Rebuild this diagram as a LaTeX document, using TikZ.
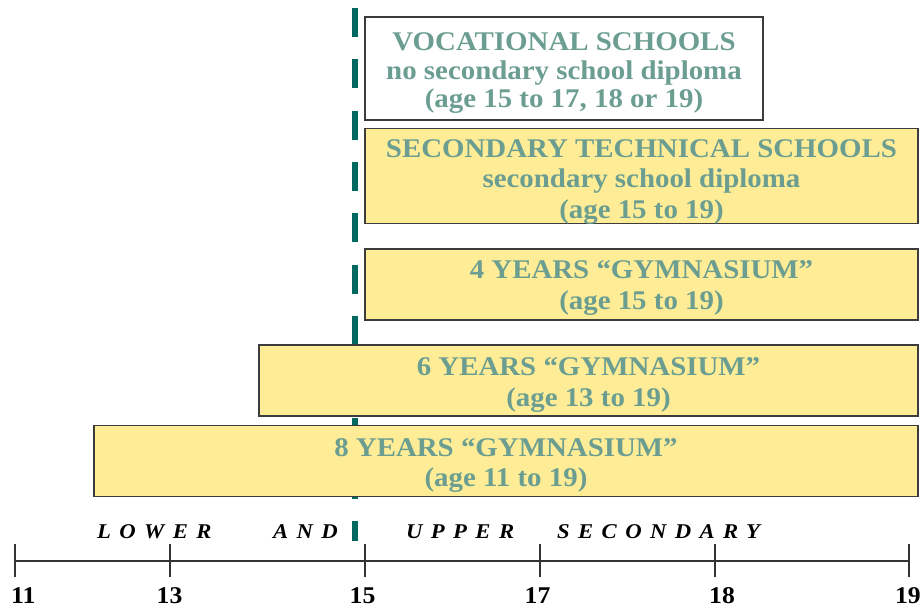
\documentclass[tikz,border=0pt]{standalone}
\usepackage{fontspec}
\setmainfont{Liberation Serif}
\newfontfamily\boxfont[FakeStretch=1.07]{Liberation Serif}
\newfontfamily\axfont[FakeStretch=1.08,LetterSpace=40]{Liberation Serif}
\definecolor{txtteal}{HTML}{6B9E91}
\definecolor{lineteal}{HTML}{00695F}
\definecolor{boxyellow}{HTML}{FEEC96}
\definecolor{boxborder}{HTML}{3C3C3C}
\definecolor{axisgrey}{HTML}{333333}
\tikzset{
  schoolbox/.style={draw=boxborder, line width=1.3pt, fill=boxyellow, inner sep=0pt},
  whitebox/.style={schoolbox, fill=white},
  boxtext/.style={inner sep=0pt, align=center, text=txtteal,
    font=\boxfont\bfseries\fontsize{27}{30.5}\selectfont},
  vocText/.style={boxtext, font=\boxfont\bfseries\fontsize{27}{28.5}\selectfont},
  agenum/.style={font=\boxfont\bfseries\fontsize{24}{26}\selectfont, inner sep=0pt, text=black},
  phase/.style={font=\axfont\bfseries\itshape\fontsize{21}{23}\selectfont, inner sep=0pt, anchor=base west, text=black},
  axisline/.style={draw=axisgrey, line width=1.2pt},
}
\begin{document}
\begin{tikzpicture}[x=1pt,y=-1pt]
\useasboundingbox (0,0) rectangle (922,608);
% dashed divider (behind boxes)
\coordinate (dtop) at (355,8);
\coordinate (dbot) at (355,541);
\draw[lineteal, line width=6pt, dash pattern=on 29pt off 22.3pt] (dtop) -- (dbot);
% boxes
\node[whitebox, minimum width=398pt, minimum height=103pt] (voc) at (564,68.5) {};
\node[schoolbox, minimum width=553pt, minimum height=95pt] (tech) at (641.5,176) {};
\node[schoolbox, minimum width=553pt, minimum height=71pt] (g4) at (641.5,284.5) {};
\node[schoolbox, minimum width=659pt, minimum height=71pt] (g6) at (588.5,380.5) {};
\node[schoolbox, minimum width=824pt, minimum height=71pt] (g8) at (506,461) {};
% box texts
\node[vocText] (vocT) at ([yshift=-5pt]voc.center)
  {VOCATIONAL SCHOOLS\\no secondary school diploma\\(age 15 to 17, 18 or 19)};
\node[boxtext] (techT) at ([yshift=-6pt]tech.center)
  {SECONDARY TECHNICAL SCHOOLS\\secondary school diploma\\(age 15 to 19)};
\node[boxtext] (g4T) at ([yshift=-3.5pt]g4.center) {4 YEARS “GYMNASIUM”\\(age 15 to 19)};
\node[boxtext] (g6T) at ([yshift=-4.5pt]g6.center) {6 YEARS “GYMNASIUM”\\(age 13 to 19)};
\node[boxtext] (g8T) at ([yshift=-4.5pt]g8.center) {8 YEARS “GYMNASIUM”\\(age 11 to 19)};
% axis
\coordinate (a11) at (15,561);
\coordinate (a13) at (170,561);
\coordinate (a15) at (365,561);
\coordinate (a17) at (540,561);
\coordinate (a18) at (715,561);
\coordinate (a19) at (909,561);
\draw[axisline] (a11) -- (a19);
\foreach \t in {a11,a13,a15,a17,a18,a19}
  \draw[axisline] ([yshift=17pt]\t) -- ([yshift=-16pt]\t);
% numbers
\node[agenum, anchor=base west] (n11) at (11,603) {11};
\node[agenum, anchor=base] (n13) at (169.5,603) {13};
\node[agenum, anchor=base] (n15) at (362.5,603) {15};
\node[agenum, anchor=base] (n17) at (537.5,603) {17};
\node[agenum, anchor=base] (n18) at (722,603) {18};
\node[agenum, anchor=base east] (n19) at (921,603) {19};
% phase labels
\node[phase] (lower) at (97,538) {LOWER};
\node[phase] (and) at (273,538) {AND};
\node[phase] (upper) at (406,538) {UPPER};
\node[phase] (second) at (557,538) {SECONDARY};
\end{tikzpicture}
\end{document}
